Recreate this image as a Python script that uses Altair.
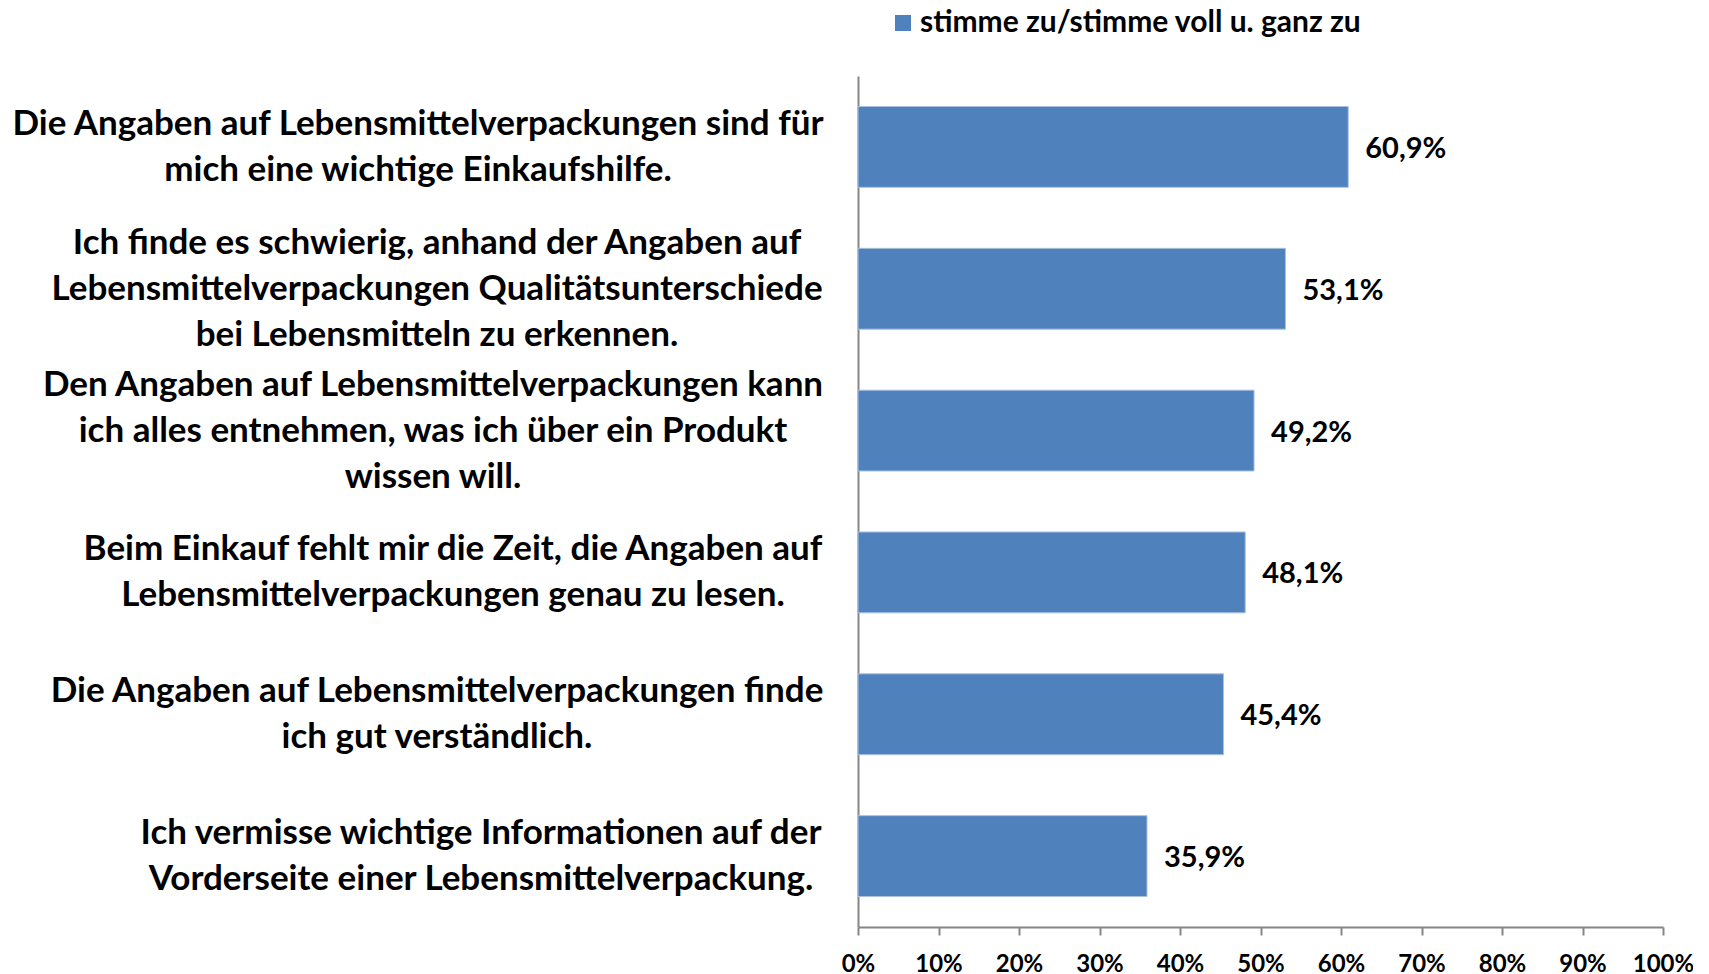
import altair as alt
import pandas as pd

# ---- data ----
categories = [
    "Die Angaben auf Lebensmittelverpackungen sind für|mich eine wichtige Einkaufshilfe.",
    "Ich finde es schwierig, anhand der Angaben auf|Lebensmittelverpackungen Qualitätsunterschiede|bei Lebensmitteln zu erkennen.",
    "Den Angaben auf Lebensmittelverpackungen kann|ich alles entnehmen, was ich über ein Produkt|wissen will.",
    "Beim Einkauf fehlt mir die Zeit, die Angaben auf|Lebensmittelverpackungen genau zu lesen.",
    "Die Angaben auf Lebensmittelverpackungen finde|ich gut verständlich.",
    "Ich vermisse wichtige Informationen auf der|Vorderseite einer Lebensmittelverpackung.",
]
values = [0.609, 0.531, 0.492, 0.481, 0.454, 0.359]
series_name = "stimme zu/stimme voll u. ganz zu"
tick_values = [0, 0.1, 0.2, 0.3, 0.4, 0.5, 0.6, 0.7, 0.8, 0.9, 1.0]

# ---- layout ----
PLOT_W, PLOT_H = 805, 851
PAD_INNER = 0.43
# horizontal centre of each multi-line category label block, px left of the axis
label_block_centers = [-440, -421, -425, -405, -421, -377]
LINE_HEIGHT = 46

FONT = "Lato"
BAR_COLOR = "#4F81BD"
AXIS_COLOR = "#868686"

df = pd.DataFrame({
    "cat": categories,
    "value": values,
    "series": [series_name] * len(categories),
    "vlabel": [f"{v * 100:.1f}".replace(".", ",") + "%" for v in values],
})

# yOffset is measured from the start of the band: add half the band width
n_cat = len(categories)
step = PLOT_H / (n_cat - PAD_INNER + PAD_INNER)
half_band = step * (1 - PAD_INNER) / 2

rows = []
for cat, cx in zip(categories, label_block_centers):
    lines = cat.split("|")
    n = len(lines)
    for i, line in enumerate(lines):
        rows.append({"cat": cat, "line": line, "cx": cx,
                     "off": half_band + (i - (n - 1) / 2) * LINE_HEIGHT})
lines_df = pd.DataFrame(rows)

y_enc = alt.Y(
    "cat:N",
    sort=categories,
    scale=alt.Scale(paddingInner=PAD_INNER, paddingOuter=PAD_INNER / 2),
    axis=alt.Axis(labels=False, ticks=False, domain=True, domainColor=AXIS_COLOR,
                  domainWidth=2, title=None, grid=False),
)

bars = alt.Chart(df).mark_bar(stroke="#A9C0DF", strokeWidth=1).encode(
    x=alt.X(
        "value:Q",
        scale=alt.Scale(domain=[0, 1], nice=False, zero=True),
        axis=alt.Axis(
            values=tick_values, format=".0%", title=None, grid=False,
            domainColor=AXIS_COLOR, domainWidth=2,
            tickColor=AXIS_COLOR, tickWidth=2, tickSize=8,
            labelFont=FONT, labelFontSize=24, labelFontWeight="bold",
            labelColor="black", labelFlush=False, labelPadding=17,
        ),
    ),
    y=y_enc,
    color=alt.Color(
        "series:N",
        scale=alt.Scale(range=[BAR_COLOR]),
        legend=alt.Legend(
            orient="none", legendX=30, legendY=-68, title=None,
            symbolType="square", symbolSize=256, symbolStrokeWidth=0,
            labelFont=FONT, labelFontSize=30, labelFontWeight="bold",
            labelColor="black", labelOffset=2, padding=0,
            labelLimit=1000,
        ),
    ),
)

value_labels = alt.Chart(df).mark_text(
    align="left", baseline="middle", dx=17, dy=2,
    font=FONT, fontSize=29, fontWeight="bold", color="black",
).encode(
    x=alt.X("value:Q"),
    y=alt.Y("cat:N", sort=categories),
    text="vlabel:N",
)

cat_labels = alt.Chart(lines_df).mark_text(
    align="center", baseline="middle",
    font=FONT, fontSize=35, fontWeight="bold", color="black",
).encode(
    x=alt.X("cx:Q", scale=None),
    y=alt.Y("cat:N", sort=categories),
    yOffset=alt.YOffset("off:Q", scale=None),
    text="line:N",
)

chart = alt.layer(bars, value_labels, cat_labels).properties(
    width=PLOT_W,
    height=PLOT_H,
    background="white",
    autosize=alt.AutoSizeParams(type="none"),
    padding={"left": 850, "top": 68, "right": 30, "bottom": 50},
).configure_view(stroke=None)

chart.save("out.html", embed_options={"renderer": "svg", "actions": False})
